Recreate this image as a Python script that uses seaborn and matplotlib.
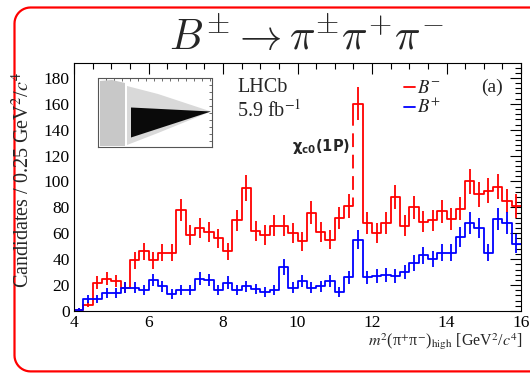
import numpy as np
import pandas as pd
import matplotlib
matplotlib.use("Agg")
import matplotlib.pyplot as plt
import seaborn as sns
from matplotlib.patches import Polygon
from matplotlib.lines import Line2D
from matplotlib.ticker import MultipleLocator

# ---------------- data ----------------
x_min, x_max, bin_width = 4.0, 16.0, 0.25          # 48 bins of 0.25 GeV^2/c^4
counts_bminus = [1, 5, 22, 25, 23, 18, 39, 46, 39, 45, 45, 78,
                 59, 64, 61, 56, 46, 70, 95, 62, 59, 66, 66, 60,
                 54, 76, 61, 55, 72, 81, 160, 68, 60, 68, 88, 66,
                 80, 69, 70, 77, 71, 79, 100, 90, 93, 96, 85, 81]
counts_bplus = [1, 9, 9, 14, 14, 18, 18, 16, 24, 19, 13, 16,
                16, 25, 24, 16, 22, 16, 19, 17, 15, 16, 34, 18,
                23, 18, 19, 23, 15, 26, 55, 26, 27, 28, 27, 30,
                37, 43, 40, 45, 45, 57, 68, 64, 45, 71, 68, 52]
x_ticks = [4, 6, 8, 10, 12, 14, 16]
y_ticks = [0, 20, 40, 60, 80, 100, 120, 140, 160, 180]
legend_labels = [r"$B^{-}$", r"$B^{+}$"]
peak_bin = 30

# inset (Dalitz-plot sketch) outlines, in inset-local units
gray_band_x = [2, 14, 27, 27, 2]
gray_band_y = [3, 2, 5, 68, 68]
gray_wedge_x = [29, 60, 113, 60, 29]
gray_wedge_y = [8, 16, 33.5, 55, 67]
black_wedge_x = [33, 113, 33]
black_wedge_y = [29.5, 33.5, 59.5]

# ---------------- figure ----------------
sns.set_theme(style="white")
plt.rcParams["font.family"] = ["Liberation Serif", "DejaVu Serif"]
plt.rcParams["mathtext.fontset"] = "stix"

W, H = 530, 373
fig = plt.figure(figsize=(W / 100, H / 100), dpi=100)
fig.patch.set_facecolor("white")

ax = fig.add_axes([74 / W, (H - 311) / H, (521 - 74) / W, (311 - 63) / H])

n_bins = len(counts_bminus)
edges = x_min + bin_width * np.arange(n_bins + 1)
centers = edges[:-1] + bin_width / 2
red, blue = "#ff0000", "#0000ff"

for cnt, col in [(counts_bminus, red), (counts_bplus, blue)]:
    df = pd.DataFrame({"m2": centers, "n": np.asarray(cnt, dtype=float)})
    sns.histplot(data=df, x="m2", weights="n", binwidth=bin_width,
                 binrange=(x_min, x_max), element="step", fill=False,
                 color=col, linewidth=1.3, ax=ax)
    ax.errorbar(centers, cnt, yerr=np.sqrt(cnt), fmt="none", ecolor=col,
                elinewidth=1.3, capsize=0)

# dashed look of the chi_c0 bin edge
ax.vlines(edges[peak_bin], 88, 146, color="white", lw=2.2,
          linestyles=[(0, (2.5, 4.5))], zorder=5)

ax.set_xlim(x_min, x_max)
ax.set_ylim(0, 191.5)
ax.set_xticks(x_ticks)
ax.set_yticks(y_ticks)
ax.xaxis.set_minor_locator(MultipleLocator(0.5))
ax.yaxis.set_minor_locator(MultipleLocator(4))
ax.tick_params(which="both", direction="in", top=True, right=True,
               labelsize=12.5, colors="black", width=0.8, pad=3)
ax.tick_params(which="major", length=8)
ax.tick_params(which="minor", length=4)
for s in ax.spines.values():
    s.set_color("black")
    s.set_linewidth(0.8)
ax.set_xlabel("")
ax.set_ylabel("")

# axis titles
ax.text(1.0045, -0.141, r"$m^2$(π$^{+}$π$^{-}$)$_{\rm high}$ [GeV$^2$/$c^4$]",
        transform=ax.transAxes, ha="right", va="baseline", fontsize=11.5)
fig.text(23 / W, (H - 72) / H, r"Candidates / 0.25 GeV$^2$/$c^4$",
         rotation=90, ha="center", va="top", fontsize=14.5)

# in-plot texts
ax.text(0.365, 0.90, "LHCb", transform=ax.transAxes, ha="left", va="center",
        fontsize=14.5)
ax.text(0.365, 0.81, r"5.9 fb$^{-1}$", transform=ax.transAxes, ha="left",
        va="center", fontsize=14.5)
ax.text(0.935, 0.90, "(a)", transform=ax.transAxes, ha="center", va="center",
        fontsize=14)
ax.text(11.42, 127, r"$\mathbf{\chi}_{\mathbf{c0}}$(1P)", ha="right", va="center",
        fontsize=10.5, fontweight="bold", family=["DejaVu Sans"],
        math_fontfamily="dejavusans")

handles = [Line2D([], [], color=red, lw=1.3), Line2D([], [], color=blue, lw=1.3)]
leg = ax.legend(handles, legend_labels, loc="upper left",
                bbox_to_anchor=(0.738, 0.93), frameon=False, fontsize=13.5,
                handlelength=0.6, handletextpad=0.1, labelspacing=0.0,
                borderaxespad=0, borderpad=0)

# title
fig.text(306 / W, (H - 38) / H, r"$B^{\pm} \rightarrow \pi^{\pm}\pi^{+}\pi^{-}$",
         ha="center", va="center", fontsize=30.5, math_fontfamily="cm")

# inset
iax = fig.add_axes([98 / W, (H - 147) / H, 114 / W, 69 / H])
iax.set_xlim(0, 114)
iax.set_ylim(69, 0)
iax.add_patch(Polygon(list(zip(gray_band_x, gray_band_y)), closed=True,
                      facecolor="#c8c8c8", edgecolor="none"))
iax.add_patch(Polygon(list(zip(gray_wedge_x, gray_wedge_y)), closed=True,
                      facecolor="#d9d9d9", edgecolor="none"))
iax.add_patch(Polygon(list(zip(black_wedge_x, black_wedge_y)), closed=True,
                      facecolor="#0a0a0a", edgecolor="none"))
iax.set_xticks(np.arange(0, 115, 8))
iax.set_yticks(np.arange(0, 70, 7))
iax.tick_params(direction="in", length=2, width=0.6, top=True, right=True,
                labelbottom=False, labelleft=False, colors="#555555")
for s in iax.spines.values():
    s.set_color("#555555")
    s.set_linewidth(0.8)
    s.set_linestyle((0, (1.5, 1)))

# red rounded frame (open on the right, it runs off the picture)
L, T, B, R, rad = 14.5, H - 7.5, 1.6, W + 5, 16
th_top = np.linspace(np.pi / 2, np.pi, 12)
th_bot = np.linspace(np.pi, 1.5 * np.pi, 12)
fx = np.concatenate([[R], L + rad + rad * np.cos(th_top),
                     L + rad + rad * np.cos(th_bot), [R]])
fy = np.concatenate([[T], T - rad + rad * np.sin(th_top),
                     B + rad + rad * np.sin(th_bot), [B]])
fig.add_artist(Line2D(fx / 100, fy / 100, transform=fig.dpi_scale_trans,
                      color=red, lw=1.6, solid_joinstyle="round"))

fig.savefig("out.png", dpi=100)
